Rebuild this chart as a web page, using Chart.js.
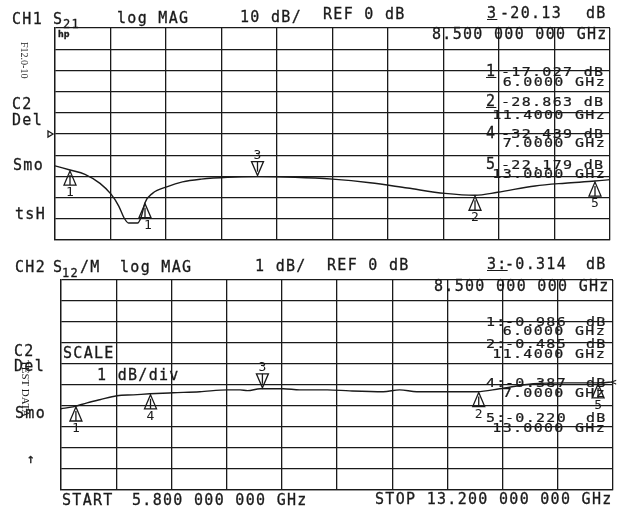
<!DOCTYPE html>
<html>
<head>
<meta charset="utf-8">
<script src="https://cdn.jsdelivr.net/npm/chart.js@4.4.1/dist/chart.umd.min.js"></script>
<style>
  body { margin: 0; background: #fff; }
  #wrap { position: relative; width: 618px; height: 510px; overflow: hidden; background: #fff; }
  canvas { position: absolute; left: 0; }
  .t { position: absolute; font-family: 'DejaVu Sans Mono', monospace; color: #1a1a1a; white-space: pre; line-height: 1; letter-spacing: 1.3px; -webkit-text-stroke: 0.3px #1a1a1a; }
</style>
</head>
<body>
<div id="wrap">
  <canvas id="ch1" width="618" height="255" style="top:0"></canvas>
  <canvas id="ch2" width="618" height="255" style="top:255px"></canvas>
</div>
<script>
// sweep
const freqStart = 5.8, freqStop = 13.2;

// CH1 S21 trace (GHz, dB)
const ch1Freq = [5.8, 5.9, 6.0, 6.2, 6.4, 6.55, 6.65, 6.72, 6.78, 6.9, 6.95, 7.0, 7.1, 7.3, 7.5, 7.75, 8.1, 8.5, 9.0, 9.5, 10.0, 10.5, 11.0, 11.4, 11.7, 12.2, 12.6, 13.0, 13.2];
const ch1Db = [-15.0, -16.0, -17.0, -19.0, -23.3, -28.5, -34.0, -39.5, -42.0, -42.0, -39.0, -32.4, -28.0, -24.8, -22.6, -21.3, -20.4, -20.1, -20.4, -21.3, -23.0, -25.5, -28.0, -28.9, -27.5, -24.5, -23.2, -22.2, -21.5];

// CH2 S12/M trace
const ch2Freq = [5.8, 5.96, 6.15, 6.32, 6.55, 6.77, 6.99, 7.3, 7.66, 8.03, 8.2, 8.3, 8.47, 8.78, 9.0, 9.37, 9.67, 10.12, 10.34, 10.57, 11.01, 11.38, 11.68, 12.13, 12.58, 13.03, 13.2];
const ch2Db = [-1.33, -1.24, -1.05, -0.9, -0.71, -0.67, -0.62, -0.57, -0.52, -0.43, -0.43, -0.47, -0.38, -0.38, -0.43, -0.43, -0.48, -0.52, -0.43, -0.52, -0.52, -0.52, -0.38, -0.14, -0.1, -0.1, -0.05];

// markers 1..5
const markerFreq = [6.0, 11.4, 8.5, 7.0, 13.0];
const markerFreqText = ['6.0000', '11.4000', '8.500 000 000', '7.0000', '13.0000'];
const ch1MarkerDb = ['-17.027', '-28.863', '-20.13', '-32.439', '-22.179'];
const ch2MarkerDb = ['-0.986', '-0.485', '-0.314', '-0.387', '-0.220'];
const ch1MarkerTag = ['1', '2', '3', '1', '5'];   // as printed on the trace
const ch2MarkerTag = ['1', '2', '3', '4', '5'];
const activeMarker = 2;

const ink = '#1a1a1a';

function valueAt(freq, db, f) {
  for (let i = 1; i < freq.length; i++) {
    if (f <= freq[i]) {
      const t = (f - freq[i - 1]) / (freq[i] - freq[i - 1]);
      return db[i - 1] + t * (db[i] - db[i - 1]);
    }
  }
  return db[db.length - 1];
}

const markerPlugin = {
  id: 'markers',
  afterDatasetsDraw(chart, args, opts) {
    const { ctx, scales: { x, y }, chartArea } = chart;
    ctx.save();
    ctx.strokeStyle = ink;
    ctx.fillStyle = ink;
    ctx.lineWidth = 1.3;
    ctx.font = '13px "DejaVu Sans Mono"';
    ctx.textAlign = 'center';
    markerFreq.forEach((f, i) => {
      const px = x.getPixelForValue(f);
      const py = y.getPixelForValue(valueAt(opts.freq, opts.db, f));
      const h = 14, w = 6;
      const down = i === activeMarker;
      const s = down ? -1 : 1;
      ctx.beginPath();
      ctx.moveTo(px, py + s);
      ctx.lineTo(px - w, py + s * (h + 1));
      ctx.lineTo(px + w, py + s * (h + 1));
      ctx.closePath();
      ctx.stroke();
      ctx.beginPath();
      ctx.moveTo(px, py + s * 5);
      ctx.lineTo(px, py + s * (h + 1));
      ctx.stroke();
      const ly = down ? py - h - 4 : py + h + 12;
      ctx.fillText(opts.tags[i], px + (opts.tags === ch1MarkerTag && i === 3 ? 3 : 0), ly);
    });
    if (opts.ref) {
      const ry = y.getPixelForValue(0);
      const lx = chartArea.left;
      ctx.beginPath();
      ctx.moveTo(lx - 7, ry - 3);
      ctx.lineTo(lx - 2, ry);
      ctx.lineTo(lx - 7, ry + 3);
      ctx.closePath();
      ctx.stroke();
    }
    ctx.restore();
  }
};

function axis(min, max) {
  return {
    type: 'linear', min: min, max: max,
    afterBuildTicks: s => {
      s.ticks = Array.from({ length: 11 }, (_, i) => ({ value: min + i * (max - min) / 10 }));
    },
    ticks: { display: false },
    grid: { color: ink, lineWidth: 1.3, drawTicks: false },
    border: { color: ink, width: 1.3 }
  };
}

function makeChart(id, freq, db, yMin, yMax, pad, tags, ref) {
  return new Chart(document.getElementById(id), {
    type: 'line',
    data: {
      datasets: [{
        data: freq.map((f, i) => ({ x: f, y: db[i] })),
        borderColor: ink,
        borderWidth: 1.4,
        pointRadius: 0,
        cubicInterpolationMode: 'monotone',
        fill: false
      }]
    },
    options: {
      responsive: false,
      animation: false,
      layout: { padding: pad },
      plugins: {
        legend: { display: false },
        tooltip: { enabled: false },
        markers: { freq: freq, db: db, tags: tags, ref: ref }
      },
      scales: {
        x: axis(freqStart, freqStop),
        y: axis(yMin, yMax)
      }
    },
    plugins: [markerPlugin]
  });
}

// 10 dB/div, REF 0 dB at centre
makeChart('ch1', ch1Freq, ch1Db, -50, 50, { left: 55, right: 8, top: 28, bottom: 15 }, ch1MarkerTag, true);
// 1 dB/div
makeChart('ch2', ch2Freq, ch2Db, -5.2, 4.8, { left: 61, right: 5, top: 25, bottom: 20 }, ch2MarkerTag, false);

// annotation text
const wrap = document.getElementById('wrap');
function put(s, x, base, size, extra) {
  const d = document.createElement('div');
  d.className = 't';
  d.textContent = s;
  d.style.left = x + 'px';
  d.style.top = (base - 0.846 * size) + 'px';
  d.style.fontSize = size + 'px';
  if (extra) Object.assign(d.style, extra);
  wrap.appendChild(d);
}
const squash = { transform: 'scaleY(0.78)', transformOrigin: 'left 85%' };
const uline = { textDecoration: 'underline' };
const serif = { fontFamily: '"Liberation Serif", "DejaVu Serif", serif', writingMode: 'vertical-rl', letterSpacing: '0', webkitTextStroke: '0' };

// CH1 header
put('CH1', 12, 25, 15);
put('S', 53, 25, 15);
put('21', 63, 28, 12);
put('log MAG', 117, 24, 15);
put('10 dB/', 240, 23, 15);
put('REF 0 dB', 323, 20, 15);
put(ch1MarkerTag[activeMarker], 487, 19, 15, uline);
put(ch1MarkerDb[activeMarker], 500, 19, 15);
put('dB', 586, 19, 15);
put(markerFreqText[activeMarker] + ' GHz', 432, 40, 15);

// CH1 marker readouts
const ch1Rows = [[0, 77, 87], [1, 107, 120], [3, 139, 148], [4, 170, 179]];
ch1Rows.forEach(([i, b1, b2]) => {
  put(String(i + 1), 486, b1, 15, i < 2 ? uline : null);
  put(ch1MarkerDb[i] + ' dB', 501, b1, 15, squash);
  const ft = markerFreqText[i] + ' GHz';
  put(ft, 605 - ft.length * 10.33 + 1, b2, 15, squash);
});

// CH1 left labels
put('F12.0-10', 19, 42, 10, Object.assign({ top: '42px' }, serif));
put('C2', 12, 110, 15);
put('Del', 12, 126, 15);
put('Smo', 13, 171, 15);
put('tsH', 15, 220, 15);
put('hp', 58, 38, 8, { fontFamily: '"DejaVu Sans", sans-serif', fontWeight: 'bold', letterSpacing: '0' });

// CH2 header
put('CH2', 15, 273, 15);
put('S', 53, 273, 15);
put('12', 62, 277, 12);
put('/M', 80, 273, 15);
put('log MAG', 120, 273, 15);
put('1 dB/', 255, 272, 15);
put('REF 0 dB', 327, 271, 15);
put(ch2MarkerTag[activeMarker] + ':', 487, 270, 15, uline);
put(ch2MarkerDb[activeMarker], 505, 270, 15);
put('dB', 586, 270, 15);
put(markerFreqText[activeMarker] + ' GHz', 434, 292, 15);

// CH2 marker readouts
const ch2Rows = [[0, 327, 336], [1, 349, 359], [3, 388, 398], [4, 423, 433]];
ch2Rows.forEach(([i, b1, b2]) => {
  put(String(i + 1) + ':', 486, b1, 15, squash);
  put(ch2MarkerDb[i], 505, b1, 15, squash);
  put('dB', 586, b1, 15, squash);
  const ft = markerFreqText[i] + ' GHz';
  put(ft, 605 - ft.length * 10.33 + 1, b2, 15, squash);
});
put('<', 611, 386, 9, { letterSpacing: '0' });

// CH2 labels
put('SCALE', 63, 359, 15);
put('1 dB/div', 97, 381, 15);
put('C2', 14, 357, 15);
put('Del', 14, 372, 15);
put('TEST DATA', 20, 0, 11, Object.assign({ top: '360px' }, serif));
put('Smo', 15, 419, 15);
put('\u2191', 27, 463, 13, { letterSpacing: '0' });

// sweep limits
put('START', 62, 506, 15);
put(freqStart.toFixed(3) + ' 000 000 GHz', 132, 506, 15);
put('STOP ' + freqStop.toFixed(3) + ' 000 000 GHz', 375, 505, 15);
</script>
</body>
</html>
